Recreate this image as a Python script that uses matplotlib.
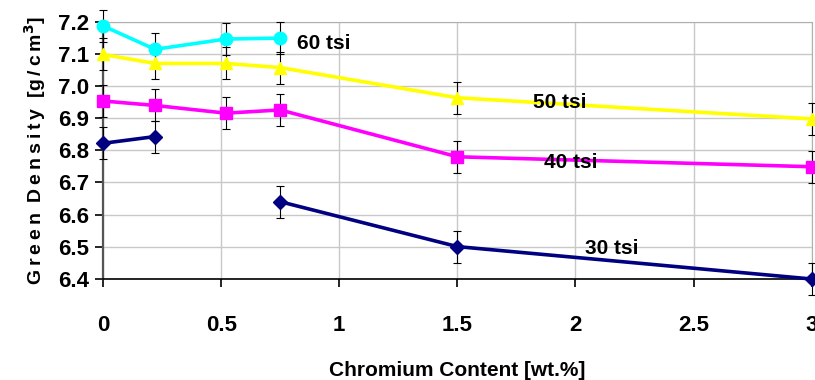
import numpy as np
import matplotlib
matplotlib.use("Agg")
import matplotlib.pyplot as plt

# chromium content [wt.%]
cr = [0, 0.22, 0.52, 0.75, 1.5, 3]

# green density per compaction pressure (nan = no point)
d60 = [7.188, 7.115, 7.147, 7.150, np.nan, np.nan]
d50 = [7.099, 7.071, 7.071, 7.058, 6.964, 6.898]
d40 = [6.954, 6.940, 6.916, 6.926, 6.780, 6.749]
d30 = [6.822, 6.843, np.nan, 6.640, 6.500, 6.399]
err = 0.05

series = [
    (d30, "#000080", "D", "30 tsi", (2.04, 6.493)),
    (d40, "#FF00FF", "s", "40 tsi", (1.865, 6.763)),
    (d50, "#FFFF00", "^", "50 tsi", (1.82, 6.95)),
    (d60, "#00FFFF", "o", "60 tsi", (0.822, 7.133)),
]

plt.rcParams['font.family'] = ['Liberation Sans', 'DejaVu Sans']
plt.rcParams['font.weight'] = 'bold'

fig = plt.figure(figsize=(8.15, 3.8), dpi=100)
ax = fig.add_axes([0.1264, 0.2666, 0.8696, 0.6754])

for vals, col, mk, lab, pos in series:
    x = np.array(cr)
    y = np.array(vals)
    ok = ~np.isnan(y)
    ax.errorbar(x[ok], y[ok], yerr=err, fmt='none', ecolor='black',
                elinewidth=0.8, capsize=3, capthick=0.8, zorder=3, clip_on=False)
    ax.plot(x, y, color=col, lw=2.6, marker=mk, markersize=9 if mk != "D" else 7.5,
            markerfacecolor=col, markeredgecolor=col, zorder=4, clip_on=False)
    ax.text(pos[0], pos[1], lab, fontsize=15, fontweight='bold', ha='left',
            va='center', zorder=5)

ax.set_xlim(0, 3)
ax.set_ylim(6.4, 7.2)
ax.set_xticks([0, 0.5, 1, 1.5, 2, 2.5, 3])
ax.set_xticklabels(["0", "0.5", "1", "1.5", "2", "2.5", "3"])
ax.set_yticks(np.arange(6.4, 7.21, 0.1))
ax.set_yticklabels([f"{v:.1f}" for v in np.arange(6.4, 7.21, 0.1)])
ax.tick_params(axis='both', labelsize=16, direction='out', length=6, width=1.2)
ax.tick_params(axis='x', pad=20, colors='black')
ax.tick_params(axis='y', pad=4)

ax.grid(True, color='#c8c8c8', lw=1)
ax.set_axisbelow(True)
ax.spines['left'].set_color('#555555')
ax.spines['left'].set_linewidth(1.6)
ax.spines['bottom'].set_color('black')
ax.spines['bottom'].set_linewidth(1.2)
ax.spines['top'].set_color('#b0b0b0')
ax.spines['right'].set_color('#b0b0b0')

ax.set_xlabel("Chromium Content [wt.%]", fontsize=15, fontweight='bold', labelpad=18)
ts = "\u2009"
ylab = ts.join("Green") + "  " + ts.join("Density") + "  [" + ts.join("g/cm") + "$^{\\mathbf{3}}$]"
ax.set_ylabel(ylab, fontsize=14, fontweight='bold', labelpad=7)

fig.savefig("out.png", dpi=100)
